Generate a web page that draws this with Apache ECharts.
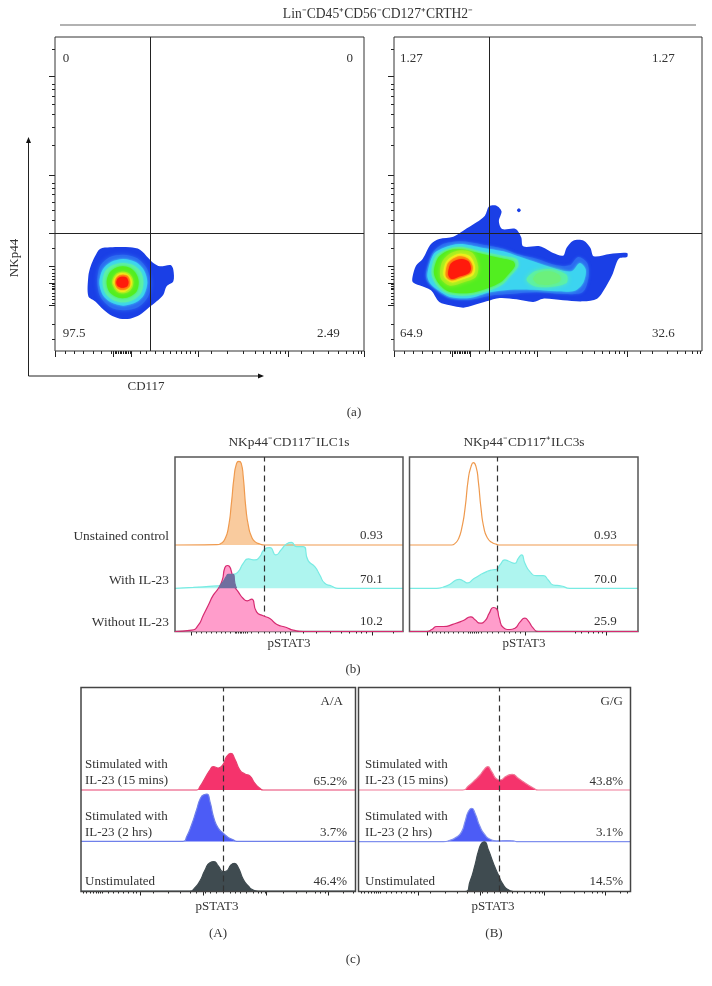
<!DOCTYPE html>
<html><head><meta charset="utf-8">
<style>html,body{margin:0;padding:0;background:#fff}#c{width:712px;height:986px;filter:blur(0.4px)}</style>
<script src="https://cdn.jsdelivr.net/npm/echarts@6/dist/echarts.min.js"></script>
</head><body><div id="c"></div>
<script>
// ---------- Data (channel units of each plot) ----------
const bLeftOrange=[[345,0],[470,1],[485,6],[495,18],[505,50],[515,130],[522,200],[530,245],[537,251],[544,245],[550,205],[558,110],[566,55],[575,25],[585,10],[600,3],[615,0],[1030,0]];
const bLeftCyan=[[345,0],[400,3],[470,7],[480,9],[490,20],[500,37],[505,42],[520,42],[535,50],[550,75],[565,88],[585,85],[600,95],[612,115],[630,122],[648,100],[665,117],[680,133],[695,138],[710,125],[730,125],[745,83],[765,65],[780,40],[795,15],[815,7],[835,0],[1030,0]];
const bLeftOverlap=[[478,0],[482,10],[490,20],[500,37],[505,42],[520,42],[525,15],[530,0]];
const bLeftPink=[[345,0],[395,4],[415,19],[430,49],[445,79],[460,109],[475,129],[487,154],[495,192],[503,198],[512,189],[522,139],[535,119],[550,99],[562,92],[575,97],[590,59],[610,47],[630,39],[650,22],[680,12],[700,4],[730,0],[1030,0]];
const bRightOrange=[[28,0],[155,0],[165,5],[175,18],[185,50],[195,110],[205,200],[213,235],[220,247],[228,235],[235,190],[243,110],[252,50],[262,22],[275,8],[290,2],[300,0],[715,0]];
const bRightCyan=[[28,0],[110,0],[130,4],[150,12],[165,23],[178,27],[190,22],[203,16],[220,28],[240,40],[260,50],[275,55],[290,57],[300,70],[315,85],[325,82],[345,75],[355,90],[365,100],[375,75],[390,50],[410,38],[430,38],[445,25],[460,10],[485,7],[510,0],[715,0]];
const bRightPink=[[28,0],[80,0],[95,6],[110,15],[130,15],[160,22],[190,33],[212,44],[225,35],[240,25],[255,32],[268,55],[280,72],[290,68],[298,40],[310,12],[330,6],[345,10],[360,28],[375,40],[385,32],[400,10],[415,0],[715,0]];
const cLeftRed=[[33,0],[380,0],[390,10],[405,35],[420,60],[430,70],[445,66],[460,78],[470,100],[483,110],[495,92],[510,60],[525,48],[540,42],[555,20],[570,5],[580,0],[857,0]];
const cLeftBlue=[[33,0],[340,0],[350,14],[365,50],[380,95],[392,130],[402,140],[411,142],[420,120],[432,70],[445,40],[460,25],[475,12],[490,5],[500,0],[857,0]];
const cLeftDark=[[33,0],[360,0],[375,10],[390,30],[405,62],[420,85],[432,88],[445,75],[460,58],[470,60],[483,78],[493,83],[505,70],[520,35],[535,15],[550,3],[565,0],[857,0]];
const cRightRed=[[25,0],[338,0],[355,12],[375,30],[390,45],[403,62],[413,70],[425,55],[440,33],[450,30],[470,42],[487,47],[505,35],[530,18],[550,6],[565,0],[842,0]];
const cRightBlue=[[25,0],[280,0],[300,4],[320,14],[335,30],[345,60],[355,90],[365,100],[375,85],[390,45],[405,20],[420,7],[440,2],[470,3],[490,2],[500,0],[842,0]];
const cRightDark=[[25,0],[345,0],[360,30],[375,80],[385,120],[395,145],[403,149],[415,125],[430,85],[445,50],[460,20],[475,5],[490,0],[842,0]];

// density contours, panel (a) left, outermost to innermost
const denL0=[[265,830],[272,800],[285,770],[300,748],[330,743],[390,743],[420,750],[445,775],[460,790],[480,800],[512,796],[520,810],[520,845],[500,860],[490,885],[470,905],[445,925],[420,945],[390,957],[360,957],[330,945],[305,925],[285,905],[265,890]];
const denL1=[[292,845],[300,800],[330,772],[370,765],[410,775],[440,805],[452,848],[445,890],[415,922],[370,932],[330,922],[300,890]];
const denL2=[[298,848],[308,810],[333,787],[370,778],[408,788],[432,812],[442,848],[432,885],[408,908],[370,918],[333,908],[308,885]];
const denL3=[[308,848],[316,815],[338,797],[368,790],[400,797],[423,818],[430,848],[423,880],[400,900],[368,908],[338,900],[316,880]];
const denL4=[[320,848],[327,822],[345,806],[368,800],[392,806],[410,825],[416,848],[410,875],[392,890],[368,896],[345,890],[327,875]];
const denL5=[[336,848],[342,830],[352,820],[368,816],[385,820],[396,832],[400,848],[396,865],[385,877],[368,881],[352,877],[342,865]];
const denL6=[[340,848],[346,832],[356,823],[368,820],[382,824],[392,834],[396,848],[392,862],[380,873],[368,877],[355,873],[346,862]];
const denL7=[[345,848],[349,835],[359,827],[370,825],[383,829],[390,843],[389,860],[380,868],[367,871],[354,867],[347,858]];
const denL8=[[349,848],[353,837],[361,832],[370,831],[380,834],[385,845],[384,856],[378,862],[367,864],[356,861],[351,856]];
// density contours, panel (a) right
const denR0=[[128,830],[138,798],[158,778],[183,733],[208,718],[250,711],[280,693],[320,668],[345,648],[358,620],[380,618],[395,635],[387,665],[397,688],[437,688],[454,713],[460,740],[510,740],[550,760],[580,768],[590,745],[610,723],[642,723],[662,745],[672,770],[720,763],[772,760],[772,772],[747,777],[727,827],[702,872],[682,897],[640,905],[580,902],[520,897],[490,907],[440,899],[390,895],[350,905],[310,917],[280,924],[240,917],[208,907],[183,872],[148,857],[128,847]];
const denRDot=[[441,632],[447,626],[453,632],[447,638]];
const denR1=[[168,820],[188,760],[215,735],[270,725],[340,735],[400,747],[445,764],[500,777],[560,797],[600,797],[625,772],[652,790],[657,830],[638,878],[580,883],[500,878],[420,883],[360,888],[300,900],[240,896],[205,876],[172,845]];
const denR2=[[172,825],[190,765],[220,745],[270,733],[340,745],[400,755],[440,768],[490,785],[560,808],[605,815],[630,790],[648,810],[640,850],[615,873],[560,875],[490,870],[420,870],[360,878],[300,895],[240,892],[205,872],[180,850]];
const denRBlob=[[470,840],[495,815],[540,808],[590,825],[590,850],[540,862],[495,860]];
const denRBlobCore=[[490,838],[505,820],[540,815],[570,828],[570,845],[540,855],[505,853]];
const denR3=[[185,822],[197,770],[228,750],[270,742],[340,757],[395,768],[440,778],[445,800],[420,830],[400,852],[360,872],[300,887],[240,884],[205,862]];
const denR4=[[192,820],[204,775],[232,754],[270,748],[335,762],[390,775],[430,785],[435,800],[412,828],[392,848],[355,865],[300,880],[240,877],[210,856]];
const denR45=[[212,835],[215,790],[235,765],[270,752],[308,760],[325,800],[318,832],[282,848],[240,858]];
const denR5=[[222,830],[225,795],[240,775],[270,762],[300,770],[315,800],[310,825],[280,838],[245,848]];
const denR6=[[228,830],[232,795],[245,780],[270,770],[295,778],[308,800],[304,820],[278,832],[245,842]];
const denR7=[[235,825],[240,797],[252,785],[275,778],[295,785],[303,805],[297,820],[270,830],[245,838]];

// axis ticks
const aTicksXMinor=[195,222,250,280,305,335,340,345,350,355,360,365,370,375,380,385,390,420,440,465,490,510,528,545,560,572,585,635,683,731,765,790,810,828,842,855,905,940,985,1015,1040,1060,1075,1085];
const aTicksXMajor=[165,340,395,595,866,1092];
const aTicksYMinor=[150,255,270,290,315,345,383,438,550,565,585,608,632,662,745,810,820,830,840,850,855,860,865,870,880,890,900,910,973,1020];
const aTicksYMajor=[230,528,700,800,850,918];
const bLeftTicksMinor=[410,425,440,455,470,485,497,510,525,530,535,540,545,550,555,562,575,595,612,628,645,660,675,730,770,812,845,870,890,905,920,1000];
const bLeftTicksMajor=[395,690,937];
const bRightTicksMinor=[95,108,120,133,146,160,175,190,205,212,218,224,230,236,243,262,278,295,312,328,345,360,525,545,565,580,595,608];
const bRightTicksMajor=[82,375,620];
const cLeftTicksMinor=[40,50,62,70,78,85,92,97,115,130,145,160,175,190,200,250,295,330,360,380,405,420,440,460,480,495,510,530,550,565,575,585,640,680,710,735,750,765,820,850];
const cLeftTicksMajor=[212,400,590,775];
const cRightTicksMinor=[33,43,55,63,71,78,85,90,107,122,137,152,167,182,192,242,287,322,352,372,397,412,432,452,472,487,502,522,542,557,567,577,632,672,702,727,742,757,812,832];
const cRightTicksMajor=[205,392,582,767];

// text
const figTitle='Lin⁻CD45⁺CD56⁻CD127⁺CRTH2⁻';
const aLeftValues=['0','0','97.5','2.49'];
const aRightValues=['1.27','1.27','64.9','32.6'];
const bTitles=['NKp44⁻CD117⁻ILC1s','NKp44⁻CD117⁺ILC3s'];
const bRowLabels=['Unstained control','With IL-23','Without IL-23'];
const bLeftValues=['0.93','70.1','10.2'];
const bRightValues=['0.93','70.0','25.9'];
const cRowLabels=['Stimulated with','IL-23 (15 mins)','Stimulated with','IL-23 (2 hrs)','Unstimulated'];
const cLeftValues=['65.2%','3.7%','46.4%'];
const cRightValues=['43.8%','3.1%','14.5%'];

// ---------- Build ----------
const FONT='"Liberation Serif",serif', FS=13, INK='#333';
const grids=[],xAxis=[],yAxis=[],series=[],graphic=[];
function hiddenAxis(min,max,extra){return Object.assign({type:'value',min,max,show:false,scale:false},extra||{});}
function addGrid(rect){grids.push(rect);return grids.length-1;}
function tickAxis(kind,gi,min,max,vals,len,extra){
  return Object.assign({type:'value',gridIndex:gi,min,max,
    axisLine:{show:false},splitLine:{show:false},axisLabel:{show:false},
    axisTick:{show:true,length:len,customValues:vals,lineStyle:{color:'#222',width:1}}},extra||{});
}
function framePanel(rect,xMin,xMax,minor,major,yr,yMinor,yMajor,border,xLens){
  const gi=addGrid(Object.assign({show:true,backgroundColor:'transparent',borderColor:border.color,borderWidth:border.width,z:4},rect));
  const xi=xAxis.length;
  xAxis.push(tickAxis('x',gi,xMin,xMax,minor,xLens[0],{position:'bottom'}));
  xAxis.push(tickAxis('x',gi,xMin,xMax,major,xLens[1],{position:'bottom'}));
  const yi=yAxis.length;
  if(yMinor){
    yAxis.push(tickAxis('y',gi,yr[0],yr[1],yMinor,3,{position:'left',inverse:true}));
    yAxis.push(tickAxis('y',gi,yr[0],yr[1],yMajor,6,{position:'left',inverse:true}));
  } else {
    yAxis.push(hiddenAxis(0,1,{gridIndex:gi}));
  }
  return {gi,xi,yi};
}
function ridge(baseY,rect,xMin,xMax,data,line,fill,name,z){
  const h=100;
  const gi=addGrid({left:rect.left,width:rect.width,top:baseY-h,height:h});
  const xi=xAxis.length,yi=yAxis.length;
  xAxis.push(hiddenAxis(xMin,xMax,{gridIndex:gi}));
  yAxis.push(hiddenAxis(0,300,{gridIndex:gi}));
  series.push({type:'line',name,xAxisIndex:xi,yAxisIndex:yi,data,smooth:0.6,symbol:'none',clip:false,z:z||3,
    lineStyle:{color:line,width:1.2},
    areaStyle:fill?{color:fill,opacity:1,origin:'start'}:undefined,silent:true});
}
function guide(frame,x){
  series.push({type:'line',xAxisIndex:frame.xi,yAxisIndex:frame.yi,data:[],symbol:'none',z:8,silent:true,
    markLine:{silent:true,symbol:'none',animation:false,label:{show:false},
      lineStyle:{color:'#333',type:[6,4],width:1.2},data:[{xAxis:x}]}});
}
function density(frame,rings){
  series.push({type:'custom',xAxisIndex:frame.xi,yAxisIndex:frame.yi,z:3,silent:true,
    data:rings.map((r,i)=>[r.pts[0][0],r.pts[0][1],i]),
    encode:{x:0,y:1},
    renderItem(params,api){
      const r=rings[params.dataIndex];
      return {type:'polygon',shape:{points:r.pts.map(p=>api.coord(p)),smooth:0.3},
        style:{fill:r.c,shadowBlur:r.b||0,shadowColor:r.c}};
    }});
}
function quadrant(frame,x,y){
  series.push({type:'line',xAxisIndex:frame.xi,yAxisIndex:frame.yi,data:[],symbol:'none',z:8,silent:true,
    markLine:{silent:true,symbol:'none',animation:false,label:{show:false},
      lineStyle:{color:'#222',type:'solid',width:1},data:[{xAxis:x},{yAxis:y}]}});
}
function text(str,x,y,align,extra,fs){
  graphic.push(Object.assign({type:'text',x,y,z:20,style:{text:str,fill:INK,font:(fs||FS)+'px '+FONT,textAlign:align||'left',textVerticalAlign:'middle'}},extra||{}));
}
const C=['#1a3fe6','#2c6cf0','#3cd4f0','#5cf0a8','#52ee20','#a4ee20','#f2f01c','#ff8c10','#ff1a0c'];

// panel (a)
const aBorder={color:'#333',width:1};
const aLens=[3,6];
const aL=framePanel({left:55,top:37,width:309,height:314},165,1092,aTicksXMinor,aTicksXMajor,[112,1054],aTicksYMinor,aTicksYMajor,aBorder,aLens);
density(aL,[{pts:denL0,c:C[0]},{pts:denL1,c:C[1],b:4},{pts:denL2,c:C[2],b:3},{pts:denL3,c:C[3],b:3},{pts:denL4,c:C[4],b:3},{pts:denL5,c:C[5],b:3},{pts:denL6,c:C[6],b:2},{pts:denL7,c:C[7],b:2},{pts:denL8,c:C[8],b:2}]);
quadrant(aL,451,700);
const shiftA=v=>v-93;
const aR=framePanel({left:394,top:37,width:308,height:314},72,997,aTicksXMinor.map(shiftA),aTicksXMajor.map(shiftA),[112,1054],aTicksYMinor,aTicksYMajor,aBorder,aLens);
density(aR,[{pts:denR0,c:C[0]},{pts:denRDot,c:C[0]},{pts:denR1,c:C[1],b:3},{pts:denR2,c:C[2],b:3},{pts:denRBlob,c:C[3],b:5},{pts:denRBlobCore,c:'#6cf07c',b:4},{pts:denR3,c:C[3],b:3},{pts:denR4,c:C[4],b:3},{pts:denR45,c:C[5],b:4},{pts:denR5,c:C[6],b:3},{pts:denR6,c:C[7],b:2},{pts:denR7,c:C[8],b:2}]);
quadrant(aR,358,700);

// panel (b)
const bBorder={color:'#555',width:1.5};
const histLens=[2,4];
const bLR={left:175,top:457,width:228,height:174.5};
const bRR={left:409.5,top:457,width:228.5,height:174.5};
const bL=framePanel(bLR,345,1030,bLeftTicksMinor,bLeftTicksMajor,null,null,null,bBorder,histLens);
ridge(545,bLR,345,1030,bLeftOrange,'#ef9a4e','#f9cb9e','Unstained control');
ridge(588.3,bLR,345,1030,bLeftCyan,'#78ebe3','#aef5ef','With IL-23');
ridge(631.5,bLR,345,1030,bLeftPink,'#d62a70','#ff9dcb','Without IL-23',6);
ridge(588.3,bLR,345,1030,bLeftOverlap,'#6f6f9f','#6f6f9f','Overlap',7);
guide(bL,612);
const bR=framePanel(bRR,28,715,bRightTicksMinor,bRightTicksMajor,null,null,null,bBorder,histLens);
ridge(545,bRR,28,715,bRightOrange,'#ef9a4e',null,'Unstained control');
ridge(588.3,bRR,28,715,bRightCyan,'#78ebe3','#aef5ef','With IL-23');
ridge(631.5,bRR,28,715,bRightPink,'#d62a70','#ff9dcb','Without IL-23',6);
guide(bR,292);

// panel (c)
const cBorder={color:'#444',width:1.5};
const cLR={left:81,top:687.5,width:274.5,height:204};
const cRR={left:358.5,top:687.5,width:272,height:204};
const cL=framePanel(cLR,33,857,cLeftTicksMinor,cLeftTicksMajor,null,null,null,cBorder,histLens);
ridge(790,cLR,33,857,cLeftRed,'#e8406e','#f5336c','Stimulated 15 mins');
ridge(841.4,cLR,33,857,cLeftBlue,'#6f80ea','#4c5cf6','Stimulated 2 hrs');
ridge(891,cLR,33,857,cLeftDark,'#3f4b50','#3f4b50','Unstimulated');
guide(cL,460);
const cR=framePanel(cRR,25,842,cRightTicksMinor,cRightTicksMajor,null,null,null,cBorder,histLens);
ridge(790,cRR,25,842,cRightRed,'#ef7a98','#f5336c','Stimulated 15 mins');
ridge(841.6,cRR,25,842,cRightBlue,'#8090ee','#4c5cf6','Stimulated 2 hrs');
ridge(891.5,cRR,25,842,cRightDark,'#3f4b50','#3f4b50','Unstimulated');
guide(cR,448);

// header rule and arrows
graphic.push({type:'line',z:20,shape:{x1:60,y1:25,x2:696,y2:25},style:{stroke:'#666',lineWidth:1.2}});
graphic.push({type:'polyline',z:20,shape:{points:[[28.5,140],[28.5,376],[261,376]]},style:{stroke:'#222',lineWidth:1,fill:null}});
graphic.push({type:'polygon',z:20,shape:{points:[[28.5,137],[26,143],[31,143]]},style:{fill:'#111'}});
graphic.push({type:'polygon',z:20,shape:{points:[[264,376],[258,373.5],[258,378.5]]},style:{fill:'#111'}});

// texts
text(figTitle,378,14,'center',null,13.6);
[[62.7,59,aLeftValues[0]],[346.5,59,aLeftValues[1]],[62.7,334,aLeftValues[2]],[317,334,aLeftValues[3]],
 [400,59,aRightValues[0]],[652,59,aRightValues[1]],[400,334,aRightValues[2]],[652,334,aRightValues[3]]].forEach(t=>text(t[2],t[0],t[1]));
text('NKp44',15,258,'center',{rotation:Math.PI/2});
text('CD117',146,387,'center');
text('(a)',354,413,'center');
text(bTitles[0],289,442,'center',null,13.4);text(bTitles[1],524,442,'center',null,13.4);
[536,580,622].forEach((y,i)=>{text(bRowLabels[i],169,y,'right',null,13.4);text(bLeftValues[i],360,y);text(bRightValues[i],594,y);});
text('pSTAT3',289,644,'center');text('pSTAT3',524,644,'center');
text('(b)',353,670,'center');
[[765,0],[781,1],[817,2],[833,3],[882,4]].forEach(r=>{text(cRowLabels[r[1]],85,r[0]);text(cRowLabels[r[1]],365,r[0]);});
[782,833,882].forEach((y,i)=>{text(cLeftValues[i],347,y,'right');text(cRightValues[i],623,y,'right');});
text('A/A',343,702,'right');text('G/G',623,702,'right');
text('pSTAT3',217,907,'center');text('pSTAT3',493,907,'center');
text('(A)',218,934,'center');text('(B)',494,934,'center');
text('(c)',353,960,'center');

const chart=echarts.init(document.getElementById('c'),null,{renderer:'canvas'});
chart.setOption({animation:false,backgroundColor:'#fff',grid:grids,xAxis,yAxis,series,graphic:{elements:graphic}});
</script></body></html>
